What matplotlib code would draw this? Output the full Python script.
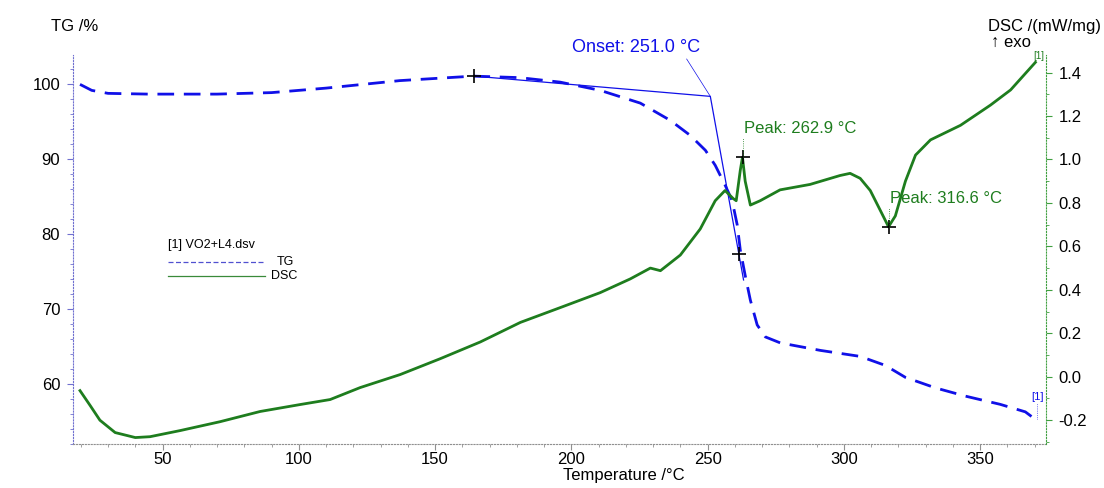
import matplotlib.pyplot as plt
from matplotlib.ticker import MultipleLocator

plt.rcParams['font.family'] = ['Liberation Sans', 'DejaVu Sans']

# TG curve (temperature / °C, mass / %)
tg_temp = [19.7, 24, 30, 45, 70, 90, 110, 137, 164, 181, 195.9, 210.6, 225.3, 236.3,
           243.6, 249.2, 252.8, 256.5, 259.0, 260.9, 262.0, 263.8, 265.7, 268.2, 271.2,
           276.7, 291.4, 306, 315.2, 322.6, 333.6, 344.6, 357.4, 366.6, 371]
tg_val = [100.0, 99.2, 98.8, 98.7, 98.7, 98.9, 99.5, 100.5, 101.1, 100.9, 100.3, 99.2,
          97.5, 95.2, 93.2, 91.2, 89.2, 86.5, 84.5, 81.2, 77.9, 74.5, 71.2, 67.9, 66.3,
          65.5, 64.5, 63.7, 62.5, 60.9, 59.5, 58.4, 57.3, 56.3, 55.1]

# DSC curve (temperature / °C, mW/mg)
dsc_temp = [19.7, 23.4, 27, 32.6, 40, 45.4, 56.4, 71.1, 85.8, 100.5, 111.5, 122.5,
            137.2, 151.9, 166.6, 181.3, 195.9, 210.6, 221.6, 229, 232.7, 240, 247.3,
            252.8, 256.4, 259.4, 260.5, 262, 262.8, 263.8, 265.7, 269.3, 276.6, 287.6,
            298.6, 302.3, 306, 309.7, 313.4, 316.4, 318.9, 322.6, 326.3, 331.8, 342.8,
            353.8, 361.2, 370.3]
dsc_val = [-0.064, -0.132, -0.2, -0.257, -0.28, -0.276, -0.248, -0.207, -0.16, -0.128,
           -0.105, -0.05, 0.01, 0.083, 0.16, 0.25, 0.318, 0.387, 0.45, 0.5, 0.488, 0.56,
           0.68, 0.81, 0.857, 0.82, 0.81, 0.95, 1.01, 0.9, 0.79, 0.81, 0.86, 0.885,
           0.926, 0.936, 0.913, 0.857, 0.765, 0.69, 0.74, 0.9, 1.02, 1.09, 1.157,
           1.25, 1.32, 1.447]

# onset construction
onset_t, onset_tg = 251.0, 98.4
base_start = (164.3, 101.1)
tangent_end = (263.2, 73.9)
tangent_mark = (261.4, 77.4)
peaks = [(262.9, 1.01), (316.6, 0.69)]

blue = '#1010e8'
green = '#1e7d1e'
fs = 12

fig = plt.figure(figsize=(11.04, 4.88), dpi=100)
ax = fig.add_axes([0.0658, 0.090, 0.8817, 0.797])
ax2 = ax.twinx()

ax.plot(tg_temp, tg_val, color=blue, lw=2, dashes=(6, 3.5))
ax2.plot(dsc_temp, dsc_val, color=green, lw=2)

# onset tangent lines
ax.plot([base_start[0], onset_t, tangent_end[0]], [base_start[1], onset_tg, tangent_end[1]],
        color=blue, lw=0.9)
ax.plot([base_start[0], tangent_mark[0]], [base_start[1], tangent_mark[1]],
        ls='none', marker='+', ms=10, mew=1.2, color='black')
ax.annotate('Onset: 251.0 °C', xy=(onset_t, onset_tg), xytext=(247.3, 104.9),
            ha='right', va='center', color=blue, fontsize=13,
            arrowprops=dict(arrowstyle='-', color=blue, lw=0.5, shrinkA=0, shrinkB=0,
                            relpos=(0.88, 0.0)))

# DSC peaks
for (pt, pv), dy in zip(peaks, [0.1, 0.095]):
    ax2.plot(pt, pv, marker='+', ms=10, mew=1.2, color='black')
    ax2.plot([pt, pt], [pv, pv + dy - 0.01], color=green, lw=0.6, ls=':')
    ax2.text(pt + 0.3, pv + dy, 'Peak: %.1f °C' % pt, color=green, fontsize=fs,
             ha='left', va='bottom')

# [1] curve tags
ax.text(371, 57.6, '[1]', color=blue, fontsize=8, ha='center', va='bottom')
ax.plot([371, 371], [55.3, 57.5], color=blue, lw=0.5, ls=':')
ax2.text(371.6, 1.455, '[1]', color=green, fontsize=7, ha='center', va='bottom')

ax.set_xlim(17, 374.2)
ax.set_ylim(52, 103.9)
ax2.set_ylim(-0.31, 1.48)

ax.xaxis.set_major_locator(MultipleLocator(50))
ax.xaxis.set_minor_locator(MultipleLocator(10))
ax.yaxis.set_major_locator(MultipleLocator(10))
ax.yaxis.set_minor_locator(MultipleLocator(2))
ax2.yaxis.set_major_locator(MultipleLocator(0.2))
ax2.yaxis.set_minor_locator(MultipleLocator(0.1))
ax2.yaxis.set_major_formatter(plt.FormatStrFormatter('%.1f'))

for a in (ax, ax2):
    for s in a.spines.values():
        s.set_visible(False)
ax.spines['left'].set_visible(True)
ax.spines['left'].set_color('#7070d0')
ax.spines['left'].set_linestyle(':')
ax.spines['bottom'].set_visible(True)
ax.spines['bottom'].set_color('#909090')
ax.spines['bottom'].set_linestyle(':')
ax2.spines['right'].set_visible(True)
ax2.spines['right'].set_color('#40a040')
ax2.spines['right'].set_linestyle(':')

ax.tick_params(axis='x', which='both', colors='#909090', labelcolor='black',
               labelsize=fs, pad=2)
ax.tick_params(axis='x', which='major', length=4)
ax.tick_params(axis='x', which='minor', length=2)
ax.tick_params(axis='y', which='both', colors='#7070d0', labelcolor='black',
               labelsize=fs, pad=5)
ax.tick_params(axis='y', which='major', length=4)
ax.tick_params(axis='y', which='minor', length=2)
ax2.tick_params(axis='y', which='both', colors='#40a040', labelcolor='black',
                labelsize=fs, pad=5)
ax2.tick_params(axis='y', which='major', length=4)
ax2.tick_params(axis='y', which='minor', length=2)

# legend drawn as in the instrument software
ax.text(0.098, 0.512, '[1] VO2+L4.dsv', transform=ax.transAxes, fontsize=9, va='center')
ax.plot([0.098, 0.198], [0.468, 0.468], transform=ax.transAxes, color='#5050d0',
        lw=0.9, dashes=(4, 2))
ax.text(0.219, 0.468, 'TG', transform=ax.transAxes, fontsize=9, va='center', ha='center')
ax.plot([0.098, 0.198], [0.432, 0.432], transform=ax.transAxes, color='#3a8a3a', lw=0.9)
ax.text(0.204, 0.432, 'DSC', transform=ax.transAxes, fontsize=9, va='center', ha='left')

fig.text(0.046, 0.945, 'TG /%', fontsize=fs, va='center')
fig.text(0.997, 0.945, 'DSC /(mW/mg)', fontsize=fs, ha='right', va='center')
fig.text(0.9335, 0.912, '↑ exo', fontsize=fs, ha='right', va='center')
fig.text(0.565, 0.0246, 'Temperature /°C', fontsize=fs, ha='center', va='center')

fig.savefig('out.png', dpi=100)
